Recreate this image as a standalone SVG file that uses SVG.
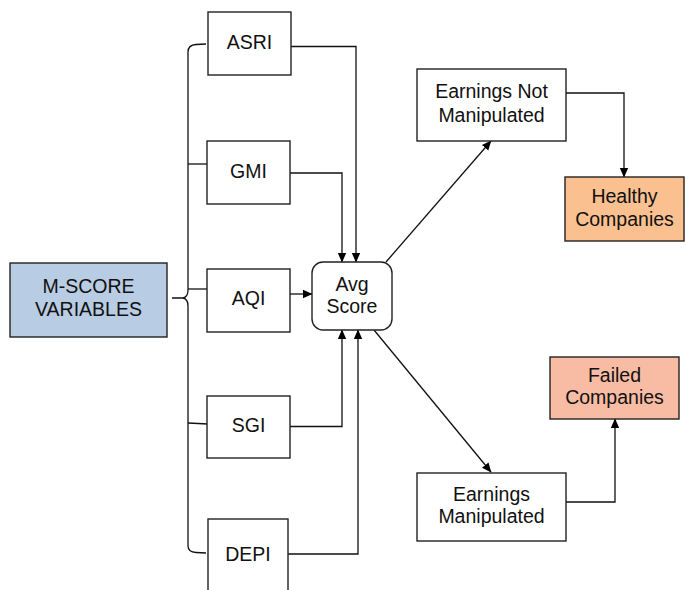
<svg xmlns="http://www.w3.org/2000/svg" width="686" height="590" viewBox="0 0 686 590">
<defs>
<style>
.box{fill:#fff;stroke:#222;stroke-width:1.4}
.t{font-family:"Liberation Sans",Arial,sans-serif;font-size:19.5px;fill:#111;text-anchor:middle}
.c{fill:none;stroke:#111;stroke-width:1.3}
</style>
<marker id="ah" markerWidth="10" markerHeight="10" refX="9" refY="5" orient="auto" markerUnits="userSpaceOnUse">
<path d="M0,0.8 L9.5,5 L0,9.2 Z" fill="#000"/>
</marker>
</defs>
<rect width="686" height="590" fill="#fff"/>
<g id="connectors">
<path class="c" d="M172,298 L183,298 Q188,297 188,290 L188,52 Q188,45 196,44.5 L206,44"/>
<path class="c" d="M183,298 Q188,299 188,306 L188,546 Q188,552 196,552.5 L206,553"/>
<path class="c" d="M188,164 L208,164"/>
<path class="c" d="M188,289 L208,289"/>
<path class="c" d="M188,423 L208,424"/>
<path class="c" d="M291,46.5 L356,46.5 L356,262" marker-end="url(#ah)"/>
<path class="c" d="M290,173 L342,173 L342,262" marker-end="url(#ah)"/>
<path class="c" d="M290,294 L312,294" marker-end="url(#ah)"/>
<path class="c" d="M290,426.5 L342,426.5 L342,330" marker-end="url(#ah)"/>
<path class="c" d="M288,554 L358,554 L358,330" marker-end="url(#ah)"/>
<path class="c" d="M386,262 L491,141" marker-end="url(#ah)"/>
<path class="c" d="M374,330 L491,472" marker-end="url(#ah)"/>
<path class="c" d="M566,93 L624,93 L624,177" marker-end="url(#ah)"/>
<path class="c" d="M566,502 L615,502 L615,419" marker-end="url(#ah)"/>
</g>
<g id="mscore"><rect class="box" x="10" y="263" width="157" height="74" style="fill:#b8cce4"/>
<text class="t" x="88.5" y="293">M-SCORE</text><text class="t" x="88.5" y="316">VARIABLES</text></g>
<g id="asri"><rect class="box" x="208" y="12" width="83" height="63"/><text class="t" x="249.5" y="48.5">ASRI</text></g>
<g id="gmi"><rect class="box" x="207" y="141" width="83" height="63"/><text class="t" x="248.5" y="178">GMI</text></g>
<g id="aqi"><rect class="box" x="207" y="269" width="83" height="63"/><text class="t" x="248.5" y="305">AQI</text></g>
<g id="sgi"><rect class="box" x="207" y="396" width="83" height="62"/><text class="t" x="248.5" y="432">SGI</text></g>
<g id="depi"><rect class="box" x="208" y="519" width="80" height="80"/><text class="t" x="248" y="561">DEPI</text></g>
<g id="avg"><rect class="box" x="312" y="262" width="80" height="68" rx="11"/>
<text class="t" x="352" y="291">Avg</text><text class="t" x="352" y="313">Score</text></g>
<g id="notmanip"><rect class="box" x="417" y="69" width="149" height="72"/>
<text class="t" x="491.5" y="98">Earnings Not</text><text class="t" x="491.5" y="122">Manipulated</text></g>
<g id="healthy"><rect class="box" x="565" y="177" width="119" height="64" style="fill:#fac090"/>
<text class="t" x="624.5" y="203">Healthy</text><text class="t" x="624.5" y="226">Companies</text></g>
<g id="failed"><rect class="box" x="550" y="357" width="129" height="62" style="fill:#f8bca5"/>
<text class="t" x="614.5" y="382">Failed</text><text class="t" x="614.5" y="404">Companies</text></g>
<g id="manip"><rect class="box" x="417" y="473" width="149" height="68"/>
<text class="t" x="491.5" y="501">Earnings</text><text class="t" x="491.5" y="523">Manipulated</text></g>
</svg>
